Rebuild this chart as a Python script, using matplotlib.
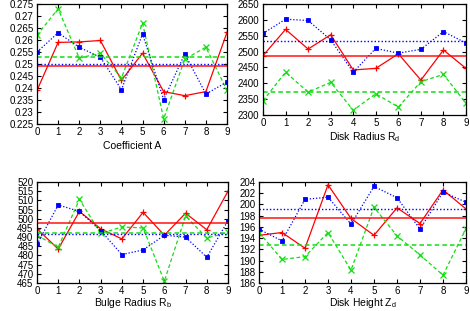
import matplotlib
matplotlib.use("Agg")
import matplotlib.pyplot as plt
import numpy as np

plt.rcParams['font.family'] = ['Liberation Sans', 'DejaVu Sans']
plt.rcParams['mathtext.fontset'] = 'custom'
plt.rcParams['mathtext.rm'] = 'Liberation Sans'

runs = list(range(10))

# Coefficient A
coefA_red = [0.239, 0.259, 0.2592, 0.2598, 0.2432, 0.2545, 0.2385, 0.2368, 0.2385, 0.2632]
coefA_blue = [0.255, 0.263, 0.257, 0.2528, 0.2393, 0.2625, 0.2352, 0.2542, 0.2375, 0.2425]
coefA_green = [0.262, 0.273, 0.2525, 0.2545, 0.2442, 0.267, 0.2272, 0.252, 0.257, 0.239]
coefA_means = [0.249, 0.2499, 0.253]

# Disk radius
rd_red = [2487, 2570, 2508, 2553, 2442, 2447, 2493, 2410, 2505, 2447]
rd_blue = [2557, 2602, 2598, 2537, 2435, 2510, 2495, 2507, 2563, 2527]
rd_green = [2345, 2435, 2372, 2403, 2315, 2367, 2325, 2405, 2428, 2337]
rd_means = [2486, 2533, 2373]

# Bulge radius
rb_red = [494.5, 483.5, 504, 494.5, 489, 503.5, 491, 503, 494, 515]
rb_blue = [486, 507.5, 504, 493.5, 480.5, 483, 491, 490, 479, 499]
rb_green = [491, 484.5, 510.5, 492, 495.5, 495, 466, 501.5, 489.5, 492.5]
rb_means = [497.5, 491.5, 492]

# Disk height
zd_red = [194.5, 195, 192.2, 203.5, 197.5, 194.5, 199.4, 196.6, 202.6, 199.2]
zd_blue = [195.6, 193.5, 200.9, 201.3, 196.5, 203.2, 201.2, 195.6, 202.2, 200.4]
zd_green = [195, 190.2, 190.7, 195, 188.3, 199.5, 194.4, 191, 187.4, 195.7]
zd_means = [197.5, 199.1, 192.7]

W, H = 470, 311
fig = plt.figure(figsize=(W / 100, H / 100), dpi=100)

RED = '#ff0000'
GREEN = '#11dd11'
BLUE = '#0000ff'


def make_ax(l, r, t, b):
    return fig.add_axes([l / W, 1 - b / H, (r - l) / W, (b - t) / H])


def draw(ax, red, blue, green, means, ylim, yticks, yfmt, xlabel, lpad):
    ax.plot(runs, red, color=RED, lw=0.9, ls='-', marker='+', ms=5, mew=0.9)
    ax.plot(runs, green, color=GREEN, lw=0.9, ls=(0, (3, 2)), marker='x', ms=4, mew=0.9)
    ax.plot(runs, blue, color=BLUE, lw=0.9, ls=(0, (1, 1.5)), marker='s', ms=3.2, mew=0.6)
    ax.axhline(means[0], color=RED, lw=1.2, ls='-', alpha=0.85)
    ax.axhline(means[1], color=BLUE, lw=1.0, ls=(0, (1, 1.5)))
    ax.axhline(means[2], color=GREEN, lw=1.1, ls=(0, (3, 2)))
    ax.set_xlim(0, 9)
    ax.set_ylim(*ylim)
    ax.set_xticks(runs)
    ax.set_yticks(yticks)
    ax.set_yticklabels([yfmt(v) for v in yticks])
    ax.tick_params(direction='in', top=True, right=True, length=3, width=0.8,
                   labelsize=7, pad=2.5)
    for s in ax.spines.values():
        s.set_linewidth(0.9)
    ax.set_xlabel(xlabel, fontsize=7.5, labelpad=lpad)


def fmtA(v):
    s = ('%.3f' % v).rstrip('0').rstrip('.')
    return s


ax1 = make_ax(37, 227, 4, 124)
draw(ax1, coefA_red, coefA_blue, coefA_green, coefA_means, (0.225, 0.275),
     np.round(np.arange(0.225, 0.2751, 0.005), 3), fmtA, 'Coefficient A', 2.5)

ax2 = make_ax(263, 466, 4, 115)
draw(ax2, rd_red, rd_blue, rd_green, rd_means, (2300, 2650),
     np.arange(2300, 2651, 50), lambda v: '%d' % v, 'Disk Radius R$_\\mathregular{d}$', 1)

ax3 = make_ax(37, 228, 182, 283)
draw(ax3, rb_red, rb_blue, rb_green, rb_means, (465, 520),
     np.arange(465, 521, 5), lambda v: '%d' % v, 'Bulge Radius R$_\\mathregular{b}$', 0)

ax4 = make_ax(259, 466, 182, 283)
draw(ax4, zd_red, zd_blue, zd_green, zd_means, (186, 204),
     np.arange(186, 205, 2), lambda v: '%d' % v, 'Disk Height Z$_\\mathregular{d}$', 0)

fig.savefig('out.png', dpi=100)
